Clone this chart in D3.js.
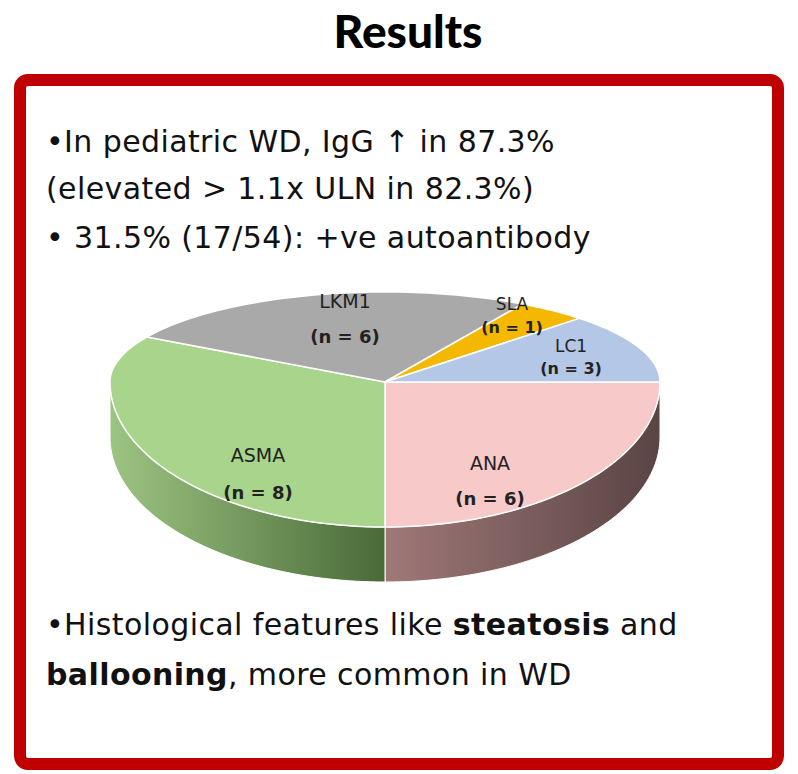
<!DOCTYPE html>
<html><head><meta charset="utf-8">
<script src="https://cdn.jsdelivr.net/npm/d3@7"></script>
<style>body{margin:0;background:#fff}</style>
</head><body>
<svg id="c" width="798" height="774"></svg>
<script>
const labels = ["ANA", "ASMA", "LKM1", "SLA", "LC1"];
const counts = [6, 8, 6, 1, 3];
const topColors = ["#f8c9c9", "#a8d48c", "#a9a9a9", "#f4b800", "#b4c7e7"];
const sideDark = ["#5a4444", "#4a6a38", "#6e6e6e", "#8a6a00", "#6a7ea0"];
const sideLight = ["#a07878", "#9cc482", "#999", "#c90", "#99a"];
const labelPos = [[490, 470, 505], [258, 462, 499], [345, 308, 343], [512, 310, 333], [571, 352, 374]];

const svg = d3.select("#c");
svg.append("text").attr("x", 408).attr("y", 48).attr("text-anchor", "middle")
  .attr("font-family", "Lato, sans-serif").attr("font-weight", 900).attr("font-size", 46)
  .text("Results");
svg.append("rect").attr("x", 20).attr("y", 80).attr("width", 758).attr("height", 684)
  .attr("rx", 8).attr("fill", "none").attr("stroke", "#c00000").attr("stroke-width", 12);

const font = "'DejaVu Sans', sans-serif";
const lines = [
  ["•In pediatric WD, IgG ↑ in 87.3%", 152],
  ["(elevated > 1.1x ULN in 82.3%)", 199],
  ["• 31.5% (17/54): +ve autoantibody", 248]
];
lines.forEach(([s, y]) => svg.append("text").attr("x", 46).attr("y", y)
  .attr("font-family", font).attr("font-size", 30).attr("letter-spacing", 0.4)
  .attr("fill", "#111").text(s));
const b1 = svg.append("text").attr("x", 46).attr("y", 635).attr("font-family", font).attr("font-size", 30).attr("letter-spacing", 0.4).attr("fill", "#111");
b1.append("tspan").text("•Histological features like ");
b1.append("tspan").attr("font-weight", "bold").text("steatosis");
b1.append("tspan").text(" and");
const b2 = svg.append("text").attr("x", 46).attr("y", 685).attr("font-family", font).attr("font-size", 30).attr("letter-spacing", 0.4).attr("fill", "#111");
b2.append("tspan").attr("font-weight", "bold").text("ballooning");
b2.append("tspan").text(", more common in WD");

// 3D pie (front half drawn deeper for perspective)
const cx = 385, cy = 382, rx = 275, ryBack = 90, ryFront = 145, depth = 55;
const pie = d3.pie().sort(null).startAngle(0).endAngle(2 * Math.PI);
const arcs = pie(counts);
const pt = (a, dy = 0) => {
  const s = Math.sin(a);
  return [cx + rx * Math.cos(a), cy + (s > 0 ? ryFront : ryBack) * s + dy];
};
const samples = (a0, a1, dy = 0) => d3.range(0, 61).map(k => pt(a0 + (a1 - a0) * k / 60, dy));
const line = d3.line();
const defs = svg.append("defs");

arcs.forEach((d, i) => {
  const a0 = Math.max(d.startAngle, 0), a1 = Math.min(d.endAngle, Math.PI);
  if (a1 <= a0) return;
  const g = defs.append("linearGradient").attr("id", "g" + i)
    .attr("gradientUnits", "userSpaceOnUse")
    .attr("x1", pt(a1)[0]).attr("x2", pt(a0)[0]).attr("y1", 0).attr("y2", 0);
  g.append("stop").attr("offset", "0%").attr("stop-color", sideLight[i]);
  g.append("stop").attr("offset", "100%").attr("stop-color", sideDark[i]);
  const pts = samples(a0, a1).concat(samples(a0, a1, depth).reverse());
  svg.append("path").attr("d", line(pts) + "Z").attr("fill", `url(#g${i})`)
    .attr("stroke", "#fff").attr("stroke-width", 1);
});
arcs.forEach((d, i) => {
  const pts = [[cx, cy]].concat(samples(d.startAngle, d.endAngle));
  svg.append("path").attr("d", line(pts) + "Z")
    .attr("fill", topColors[i]).attr("stroke", "#fff").attr("stroke-width", 1.5);
});
arcs.forEach((d, i) => {
  const [x, y1, y2] = labelPos[i];
  const fs = i >= 3 ? 17 : 19;
  svg.append("text").attr("x", x).attr("y", y1).attr("text-anchor", "middle")
    .attr("font-family", font).attr("font-size", fs).attr("fill", "#222").text(labels[i]);
  svg.append("text").attr("x", x).attr("y", y2).attr("text-anchor", "middle")
    .attr("font-family", font).attr("font-weight", "bold").attr("font-size", fs - 1).attr("fill", "#222")
    .text(`(n = ${counts[i]})`);
});
</script>
</body></html>
